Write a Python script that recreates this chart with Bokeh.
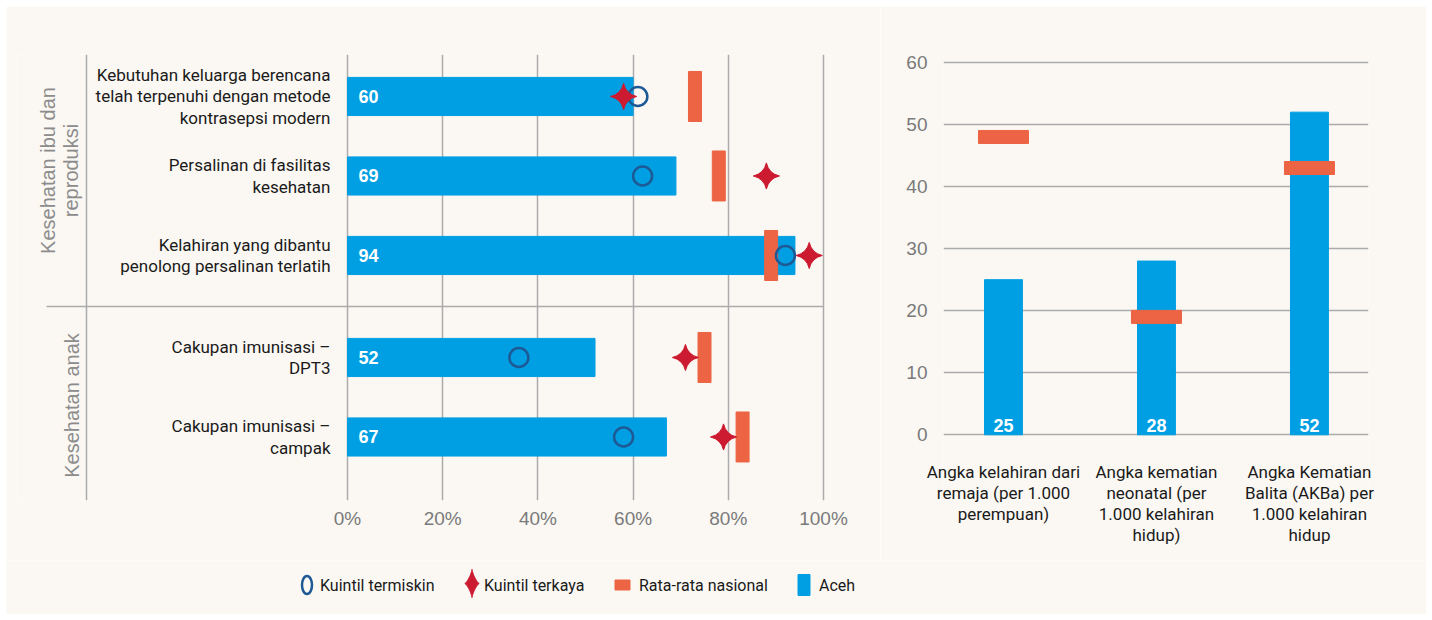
import math
from bokeh.plotting import figure
from bokeh.models import Range1d, FixedTicker, PrintfTickFormatter, Span, Spacer
from bokeh.layouts import row, column
from bokeh.core.properties import value
from bokeh.embed import file_html
from bokeh.resources import INLINE

# ---------------- data ----------------
indicators = [
    "Kebutuhan keluarga berencana\ntelah terpenuhi dengan metode\nkontrasepsi modern",
    "Persalinan di fasilitas\nkesehatan",
    "Kelahiran yang dibantu\npenolong persalinan terlatih",
    "Cakupan imunisasi \u2013\nDPT3",
    "Cakupan imunisasi \u2013\ncampak",
]
groups = ["Kesehatan ibu dan\nreproduksi", "Kesehatan anak"]
indicator_group = [0, 0, 0, 1, 1]
aceh_pct = [60, 69, 94, 52, 67]
poorest_pct = [61, 62, 92, 36, 58]
richest_pct = [58, 88, 97, 71, 79]
national_pct = [73, 78, 89, 75, 83]
pct_ticks = [0, 20, 40, 60, 80, 100]

rates = [
    "Angka kelahiran dari\nremaja (per 1.000\nperempuan)",
    "Angka kematian\nneonatal (per\n1.000 kelahiran\nhidup)",
    "Angka Kematian\nBalita (AKBa) per\n1.000 kelahiran\nhidup",
]
aceh_rate = [25, 28, 52]
national_rate = [48, 19, 43]
rate_ticks = [0, 10, 20, 30, 40, 50, 60]

legend_labels = ["Kuintil termiskin", "Kuintil terkaya", "Rata-rata nasional", "Aceh"]

# ---------------- style ----------------
BG = "#FBF8F3"
BLUE = "#009FE3"
ORANGE = "#EC6443"
RED = "#CC1A30"
DARKBLUE = "#1D5A95"
GRID = "#ABABAB"
TICK = "#7A7A7A"
GLABEL = "#8C8C8C"
TXT = "#1A1A1A"
NARROW = value("Roboto")
SANS = value("Liberation Sans")

TOP_B, BOT_B, FRAME_H = 48, 60, 446
FIG_H = TOP_B + FRAME_H + BOT_B

# ---------------- left chart ----------------
GAP = 0.283
row_pos = [i + GAP * g for i, g in enumerate(indicator_group)]
sep_pos = (row_pos[2] + row_pos[3]) / 2

x_start, x_end = -69.54, 101.47
y_top, y_bot = -0.528, 5.082
PXA = 814 / (x_end - x_start)

fa = figure(width=874, height=FIG_H, x_range=Range1d(x_start, x_end),
            y_range=Range1d(y_bot, y_top), output_backend="svg",
            toolbar_location=None, y_axis_location=None,
            min_border_left=10, min_border_right=50, min_border_top=TOP_B,
            min_border_bottom=BOT_B, background_fill_color=BG,
            border_fill_color=BG, outline_line_color=None)
fa.xgrid.ticker = FixedTicker(ticks=pct_ticks)
fa.xgrid.grid_line_color = GRID
fa.xgrid.grid_line_width = 1.5
fa.ygrid.grid_line_color = None
ax = fa.xaxis[0]
ax.ticker = FixedTicker(ticks=pct_ticks)
ax.formatter = PrintfTickFormatter(format="%d%%")
ax.axis_line_color = None
ax.major_tick_line_color = None
ax.minor_tick_line_color = None
ax.major_tick_out = 0
ax.major_label_standoff = 7
ax.major_label_text_color = TICK
ax.major_label_text_font_size = "19px"
ax.major_label_text_font = "Liberation Sans"

fa.add_layout(Span(location=x_start + 70 / PXA, dimension="height",
                   line_color=GRID, line_width=1.5))
fa.segment(x0=[x_start + 30 / PXA], y0=[sep_pos], x1=[100], y1=[sep_pos],
           line_color=GRID, line_width=1.5)

fa.hbar(y=row_pos, left=0, right=aceh_pct, height=0.48, color=BLUE)
fa.rect(x=national_pct, y=row_pos, width=13, height=50, width_units="screen",
        height_units="screen", color=ORANGE)
fa.scatter(x=poorest_pct, y=row_pos, marker="circle", size=19,
           fill_color=None, line_color=DARKBLUE, line_width=2.5)
fa.scatter(x=richest_pct, y=row_pos, marker="square_pin", angle=math.pi / 4,
           size=18.5, color=RED)

fa.text(x=[0] * len(aceh_pct), y=row_pos, text=[str(v) for v in aceh_pct],
        x_offset=11, text_baseline="middle", text_color="white",
        text_font_style="bold", text_font_size="18px", text_font=SANS)
fa.text(x=[0] * len(indicators), y=row_pos, text=indicators, x_offset=-17,
        text_align="right", text_baseline="middle", text_font_size="17px",
        text_line_height=1.08, text_color=TXT, text_font=NARROW)

g_bounds = [y_top, sep_pos, y_bot]
g_centers = [(g_bounds[i] + g_bounds[i + 1]) / 2 for i in range(len(groups))]
fa.text(x=[x_start] * len(groups), y=g_centers, text=groups, x_offset=66,
        y_offset=[-10, 2], angle=math.pi / 2, text_align="center",
        text_baseline="bottom", text_font_size="20px", text_line_height=1.08,
        text_color=GLABEL, text_font=SANS)

# ---------------- right chart ----------------
idx = list(range(len(rates)))
fb = figure(width=546, height=FIG_H, x_range=Range1d(-0.392, 2.386),
            y_range=Range1d(-10.59, 61.29), output_backend="svg",
            toolbar_location=None,
            min_border_left=63, min_border_right=58, min_border_top=TOP_B,
            min_border_bottom=BOT_B, background_fill_color=BG,
            border_fill_color=BG, outline_line_color=None)
fb.ygrid.ticker = FixedTicker(ticks=rate_ticks)
fb.ygrid.grid_line_color = GRID
fb.ygrid.grid_line_width = 1.5
fb.xgrid.grid_line_color = None
ay = fb.yaxis[0]
ay.ticker = FixedTicker(ticks=rate_ticks)
ay.axis_line_color = None
ay.major_tick_line_color = None
ay.minor_tick_line_color = None
ay.major_label_standoff = 10
ay.major_label_text_color = TICK
ay.major_label_text_font_size = "19px"
ay.major_label_text_font = "Liberation Sans"

bx = fb.xaxis[0]
bx.ticker = FixedTicker(ticks=idx)
bx.major_label_overrides = {i: lab for i, lab in zip(idx, rates)}
bx.axis_line_color = None
bx.major_tick_line_color = None
bx.minor_tick_line_color = None
bx.major_tick_out = 0
bx.major_label_standoff = -39
bx.major_label_text_color = TXT
bx.major_label_text_font_size = "17px"
bx.major_label_text_font = "Roboto"
bx.major_label_text_line_height = 1.055

fb.vbar(x=idx, bottom=0, top=aceh_rate, width=0.248, color=BLUE)
fb.rect(x=idx, y=national_rate, width=50, height=13, width_units="screen",
        height_units="screen", color=ORANGE)
fb.text(x=idx, y=[0] * len(idx), text=[str(v) for v in aceh_rate],
        y_offset=-9, text_align="center", text_baseline="alphabetic",
        text_color="white", text_font_style="bold", text_font_size="18px",
        text_font=SANS)

# ---------------- legend ----------------
LEG_TOP = 6 + FIG_H
fl = figure(width=1420, height=614 - LEG_TOP, x_range=Range1d(6, 1426),
            y_range=Range1d(614, LEG_TOP), output_backend="svg",
            toolbar_location=None, x_axis_location=None, y_axis_location=None,
            min_border=0, background_fill_color=BG, border_fill_color=BG,
            outline_line_color=None)
fl.grid.visible = False
LY = 584.5
fl.ellipse(x=[306.5], y=[LY], width=10, height=18, width_units="screen",
           height_units="screen", fill_color=None, line_color=DARKBLUE,
           line_width=2.5)
ts = [2 * math.pi * k / 120 for k in range(120)]
sx = [471.5 + 7.2 * math.copysign(abs(math.cos(t)) ** 2.6, math.cos(t)) for t in ts]
sy = [583 + 14.2 * math.copysign(abs(math.sin(t)) ** 2.6, math.sin(t)) for t in ts]
fl.patch(sx, sy, color=RED)
fl.rect(x=[622], y=[LY], width=15, height=10, width_units="screen",
        height_units="screen", color=ORANGE)
fl.rect(x=[803.5], y=[LY], width=12, height=21, width_units="screen",
        height_units="screen", color=BLUE)
fl.text(x=[319.5, 483.5, 638.5, 818.5], y=[LY] * 4, text=legend_labels,
        text_baseline="middle", text_font_size="16px", text_color=TXT,
        text_font=NARROW)

content = column(row(fa, fb, spacing=0), fl, spacing=0)
layout = column(Spacer(height=6), row(Spacer(width=6), content, spacing=0), spacing=0)
open("out.html", "w").write(file_html(layout, INLINE))
